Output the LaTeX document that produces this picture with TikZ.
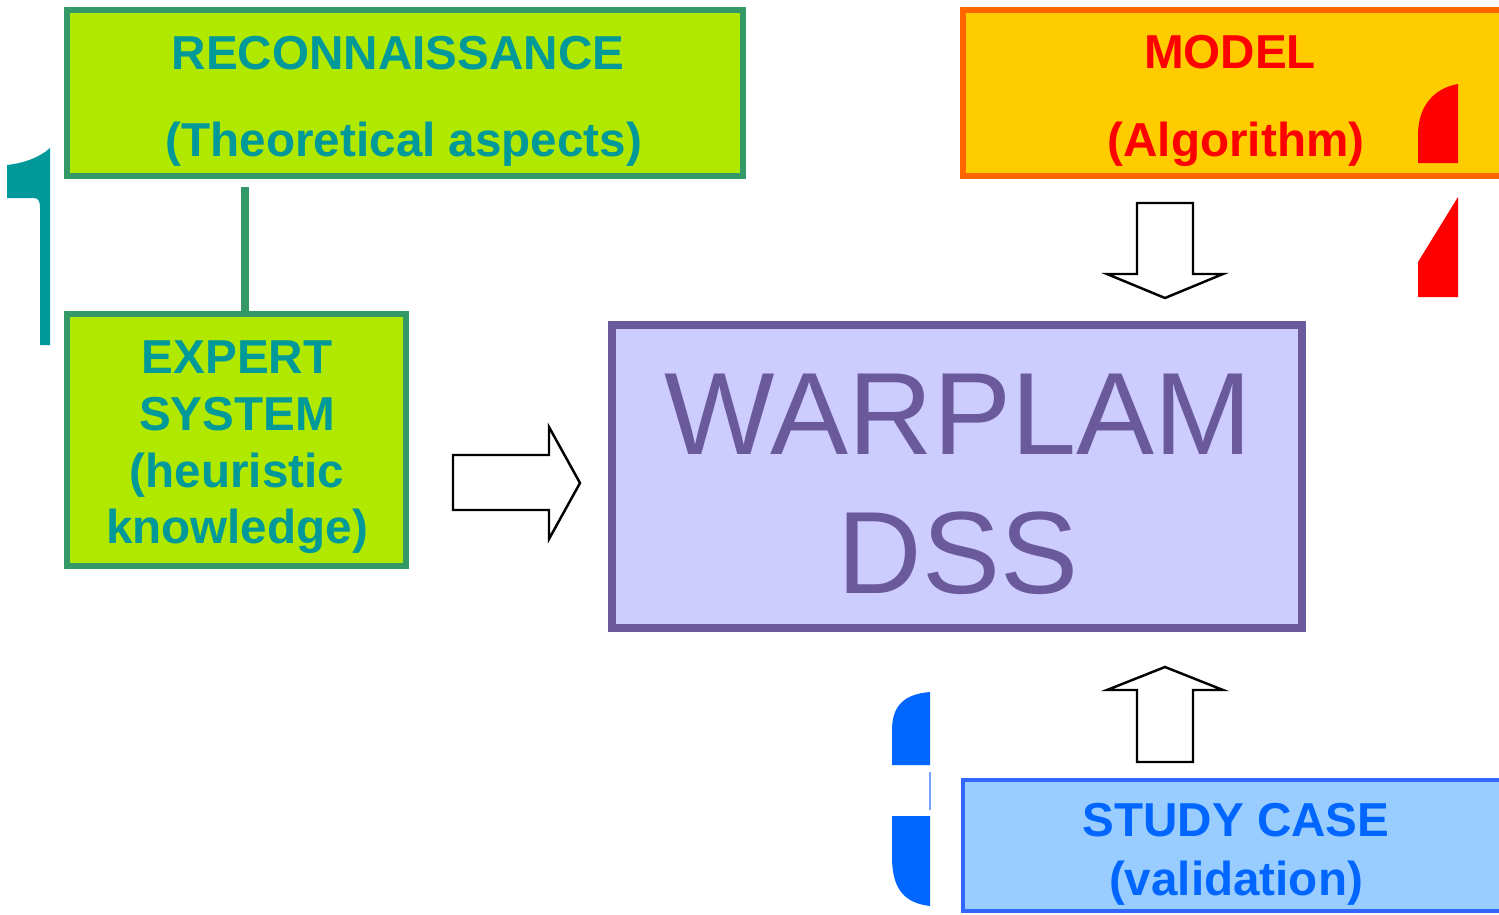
\documentclass[tikz,border=0pt]{standalone}
\usepackage{fontspec}
\setmainfont{Liberation Sans}
\definecolor{lime}{RGB}{176,232,0}
\definecolor{gborder}{RGB}{51,153,102}
\definecolor{tealtxt}{RGB}{0,153,153}
\definecolor{orangeb}{RGB}{255,102,0}
\definecolor{yellowf}{RGB}{255,204,0}
\definecolor{redtxt}{RGB}{255,0,0}
\definecolor{purpleb}{RGB}{107,90,155}
\definecolor{lavender}{RGB}{204,204,255}
\definecolor{lightblue}{RGB}{153,204,255}
\definecolor{blueb}{RGB}{51,102,255}
\definecolor{bluetxt}{RGB}{0,102,255}
\begin{document}
\begin{tikzpicture}[x=0.02cm,y=-0.02cm,
  boldtxt/.style={anchor=base,inner sep=0pt,font=\bfseries\fontsize{27.1}{30}\selectfont},
  blockarrow/.style={draw=black,line width=1.4pt,fill=white,line join=miter},
  greenbox/.style={draw=gborder,fill=lime,line width=3.4pt}]
\useasboundingbox (0,0) rectangle (1499,914);
\clip (0,0) rectangle (1499,914);
\fill[white] (0,0) rectangle (1499,914);

% boxes
\draw[greenbox] (67,10) rectangle (743,176);
\coordinate (reconbot) at (245,187);
\draw[draw=orangeb,fill=yellowf,line width=3.4pt] (963,10) rectangle (1510,176);
\draw[greenbox] (67,314) rectangle (406,566);
\coordinate (experttop) at (245,314);
\draw[draw=purpleb,fill=lavender,line width=4pt] (612,325) rectangle (1302,628);
\draw[draw=blueb,fill=lightblue,line width=2.6pt] (963,780) rectangle (1510,911);

% connector
\draw[gborder,line width=4.5pt] (reconbot) -- (experttop);

% texts
\node[boldtxt,text=tealtxt] (recon) at (398,69) {RECONNAISSANCE};
\node[boldtxt,text=tealtxt] (theo) at (404,156) {(Theoretical aspects)};
\node[boldtxt,text=redtxt] (model) at (1230,68) {MODEL};
\node[boldtxt,text=redtxt] (algo) at (1236,156) {(Algorithm)};
\node[boldtxt,text=tealtxt] (exp1) at (237,373) {EXPERT};
\node[boldtxt,text=tealtxt] (exp2) at (237,430) {SYSTEM};
\node[boldtxt,text=tealtxt] (exp3) at (237,487) {(heuristic};
\node[boldtxt,text=tealtxt] (exp4) at (237,543) {knowledge)};
\node[boldtxt,text=bluetxt] (study) at (1236,836) {STUDY CASE};
\node[boldtxt,text=bluetxt] (valid) at (1236,895) {(validation)};
\node[anchor=base,inner sep=0pt,text=purpleb,font=\fontsize{66.6}{70}\selectfont] (warplam) at (958,454) {WARPLAM};
\node[anchor=base,inner sep=0pt,text=purpleb,font=\fontsize{66.6}{70}\selectfont] (dss) at (958,593) {DSS};

% block arrows
\draw[blockarrow] (453,455) -- (549,455) -- (549,427) -- (580,483) -- (549,539) -- (549,510) -- (453,510) -- cycle;
\draw[blockarrow] (1137,203) -- (1193,203) -- (1193,274) -- (1223,274) -- (1165,298) -- (1107,274) -- (1137,274) -- cycle;
\draw[blockarrow] (1165,667) -- (1223,690) -- (1193,690) -- (1193,762) -- (1137,762) -- (1137,690) -- (1107,690) -- cycle;

% glyph fragments
\fill[tealtxt] (7,165) .. controls (25,163) and (40,157) .. (50,148) -- (50,345) -- (40,345) -- (40,208) .. controls (40,200) and (38,198) .. (33,198) -- (7,198) -- cycle;
\fill[redtxt] (1418,163) -- (1418,135) .. controls (1418,105) and (1435,88) .. (1458,84) -- (1458,163) -- cycle;
\fill[redtxt] (1458,197) -- (1418,262) -- (1418,297) -- (1458,297) -- cycle;
\fill[bluetxt] (892,765) -- (892,730) .. controls (892,705) and (905,694) .. (930,692) -- (930,765) -- cycle;
\fill[bluetxt] (892,816) -- (930,816) -- (930,906) .. controls (905,903) and (893,890) .. (892,860) -- cycle;
\draw[lightblue!80!blue,line width=0.6pt] (930,772) -- (930,810);
\end{tikzpicture}
\end{document}
